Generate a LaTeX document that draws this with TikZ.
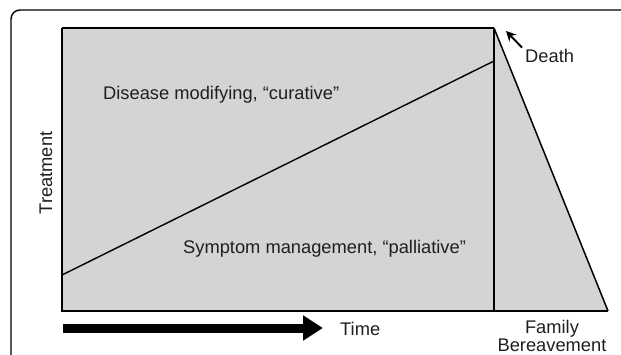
\documentclass[tikz,border=0pt]{standalone}
\usepackage{fontspec}
\setmainfont{Liberation Sans}
\usetikzlibrary{positioning,arrows.meta}
\definecolor{chartgray}{HTML}{D4D4D4}

\begin{document}
\begin{tikzpicture}[x=1pt,y=-1pt,
  lbl/.style={font=\fontsize{18.3}{20}\selectfont,inner sep=0pt,text=black!88},
  edge/.style={line width=2.8pt,line join=miter}]
\useasboundingbox (0,0) rectangle (621,355);
% outer frame
\draw[line width=1.4pt,rounded corners=9pt] (11,356) |- (622,10);
% treatment area
\coordinate (tl) at (62,28);
\coordinate (tr) at (494,28);
\coordinate (br) at (494,311);
\coordinate (bl) at (62,311);
\coordinate (tip) at (608,311);
\fill[chartgray] (tl) -- (tr) -- (tip) -- (bl) -- cycle;
\draw[line width=1.5pt] (tr) -- (tip);
\draw[line width=2pt] (tl) -- (tr);
\draw[edge] (tl) -- (bl) -- (tip);
\draw[edge] (tr) -- (br);
% curative / palliative split
\coordinate (s0) at (62,275);
\coordinate (s1) at (494,61);
\draw[line width=1.4pt] (s0) -- (s1);
\node[lbl,anchor=base west] (cur) at (103,100) {Disease modifying, “curative”};
\node[lbl,anchor=base west] (pal) at (183,254) {Symptom management, “palliative”};
\node[lbl,rotate=90,anchor=base] (treat) at (52,173) {Treatment};
% death marker
\node[lbl,anchor=base west] (death) at (525,63) {Death};
\coordinate (dhead) at (506,31);
\draw[-{Stealth[length=10pt,width=10pt]},line width=1.9pt] ([xshift=-3pt,yshift=2pt]death.north west) -- (dhead);
% time axis
\node[lbl,anchor=base west] (time) at (340,335) {Time};
\coordinate (t0) at (63,328);
\coordinate (t1) at (323,328);
\draw[line width=9pt,-{Triangle[length=20pt,width=24pt]}] (t0) -- (t1);
\node[lbl,align=center,anchor=base] (fam) at (552,351) {Family\\[-2pt]Bereavement};
\end{tikzpicture}
\end{document}
